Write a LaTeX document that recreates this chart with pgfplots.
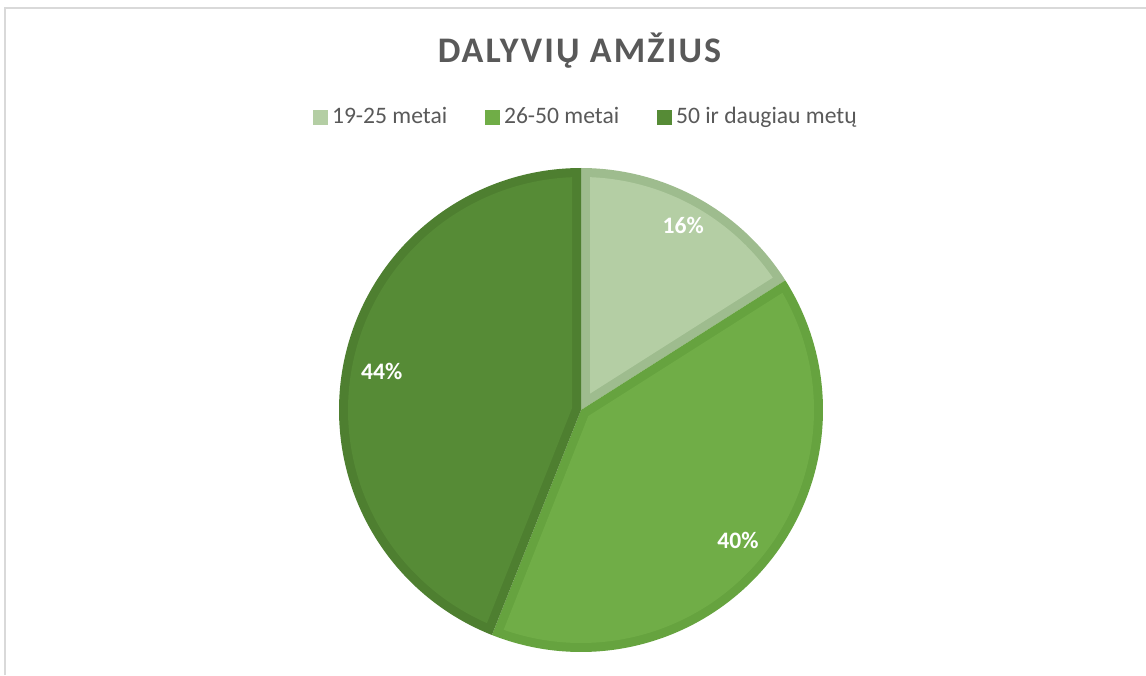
\documentclass[border=0pt]{standalone}
\usepackage{fontspec}
\setmainfont{Carlito}
\usepackage{pgfplots}
\pgfplotsset{compat=1.18}
\definecolor{cA}{HTML}{B4CEA4}
\definecolor{cAb}{HTML}{9EBC8E}
\definecolor{cB}{HTML}{70AD47}
\definecolor{cBb}{HTML}{66A33F}
\definecolor{cC}{HTML}{568B36}
\definecolor{cCb}{HTML}{4E7F30}
\definecolor{tgray}{HTML}{595959}
\definecolor{framec}{HTML}{D9D9D9}
% data (percent)
\def\vA{16}\def\vB{40}\def\vC{44}
% geometry in px units
\def\cx{581}\def\cy{265}\def\R{242}\def\bw{9}
\newcommand\pieslice[4]{%
  \pgfmathsetmacro\aA{#1}\pgfmathsetmacro\aB{#2}%
  \pgfmathsetmacro\th{#2-#1}%
  \pgfmathsetmacro\Ri{\R-\bw}%
  \pgfmathsetmacro\dl{asin(\bw/\Ri)}%
  \pgfmathsetmacro\iA{#1+\dl}\pgfmathsetmacro\iB{#2-\dl}%
  \pgfmathsetmacro\dd{\bw/sin(\th/2)}%
  \pgfmathsetmacro\mm{(#1+#2)/2}%
  \pgfmathsetmacro\vx{\cx+\dd*cos(\mm)}\pgfmathsetmacro\vy{\cy+\dd*sin(\mm)}%
  \edef\temp{\noexpand\addplot[forget plot,fill=#4,draw=none,domain=\aA:\aB,samples=150,variable=\noexpand\t] ({\cx+\R*cos(\noexpand\t)},{\cy+\R*sin(\noexpand\t)}) -- (axis cs:\cx,\cy) -- cycle;
  \noexpand\addplot[forget plot,fill=#3,draw=none,domain=\iA:\iB,samples=150,variable=\noexpand\t] ({\cx+\Ri*cos(\noexpand\t)},{\cy+\Ri*sin(\noexpand\t)}) -- (axis cs:\vx,\vy) -- cycle;}%
  \temp
}
\begin{document}
\begin{tikzpicture}
\useasboundingbox (0,0) rectangle (573pt,337.5pt);
\begin{axis}[
  at={(0,0)}, anchor=south west,
  width=573pt, height=337.5pt, scale only axis,
  xmin=0, xmax=1146, ymin=0, ymax=675,
  hide axis,
  legend columns=3,
  legend style={at={(axis cs:587,558)}, anchor=center, draw=none, fill=none,
    font=\fontsize{11.8pt}{14pt}\selectfont, text=tgray,
    /tikz/every even column/.append style={column sep=17pt},
    nodes={inner xsep=2pt, inner ysep=1pt}},
]
\draw[framec, line width=1pt] (axis cs:5.3,0) -- (axis cs:5.3,666.5) -- (axis cs:1146,666.5);
\pgfmathsetmacro\sA{90-3.6*\vA}
\pgfmathsetmacro\sB{\sA-3.6*\vB}
\pgfmathsetmacro\sC{\sB-3.6*\vC}
\pieslice{\sA}{90}{cA}{cAb}
\pieslice{\sB}{\sA}{cB}{cBb}
\pieslice{\sC}{\sB}{cC}{cCb}
\addlegendimage{legend image code/.code={\fill[cA] (0pt,-3.5pt) rectangle (7pt,3.5pt);}}
\addlegendentry{19-25 metai}
\addlegendimage{legend image code/.code={\fill[cB] (0pt,-3.5pt) rectangle (7pt,3.5pt);}}
\addlegendentry{26-50 metai}
\addlegendimage{legend image code/.code={\fill[cC] (0pt,-3.5pt) rectangle (7pt,3.5pt);}}
\addlegendentry{50 ir daugiau metų}
\node[anchor=base, text=tgray, font=\fontsize{18pt}{22pt}\selectfont\bfseries\addfontfeature{LetterSpace=6}] at (axis cs:579.5,612) {DALYVIŲ AMŽIUS};
\node[anchor=base, text=white, font=\fontsize{11.8pt}{14pt}\selectfont\bfseries] at (axis cs:683.3,441.7) {16\%};
\node[anchor=base, text=white, font=\fontsize{11.8pt}{14pt}\selectfont\bfseries] at (axis cs:738,126.7) {40\%};
\node[anchor=base, text=white, font=\fontsize{11.8pt}{14pt}\selectfont\bfseries] at (axis cs:381.7,295) {44\%};
\end{axis}
\end{tikzpicture}
\end{document}
